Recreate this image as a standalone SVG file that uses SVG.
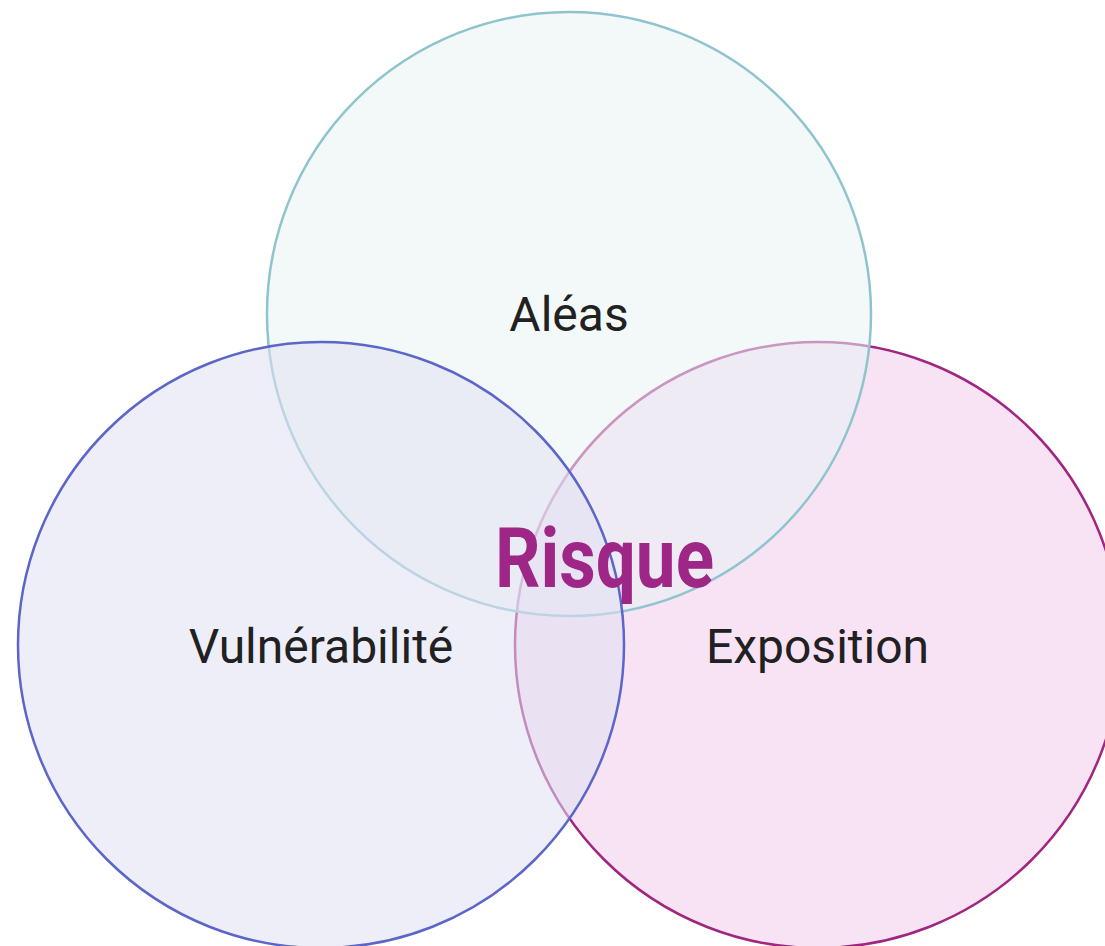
<svg xmlns="http://www.w3.org/2000/svg" width="1105" height="946" viewBox="0 0 1105 946">
  <style>
    .lbl { font-family: Roboto, "Liberation Sans", sans-serif; font-size: 48px; fill: #212121; text-anchor: middle; }
    .risk { font-family: Roboto, "Liberation Sans", sans-serif; font-weight: 700; font-size: 84px; fill: #9d2686; text-anchor: middle; }
    circle { stroke-width: 2.5; fill-opacity: 0.55; }
  </style>
  <rect width="1105" height="946" fill="#ffffff"/>
  <g id="exposition">
    <circle cx="818" cy="645" r="303" fill="#f0ccea" stroke="#a0267f"/>
  </g>
  <g id="aleas">
    <circle cx="569" cy="314" r="302" fill="#e9f2f4" stroke="#8fc4cf"/>
  </g>
  <g id="vulnerabilite">
    <circle cx="321" cy="645" r="303" fill="#e0e0f2" stroke="#5b66c8"/>
  </g>
  <g id="labels">
    <text class="lbl" x="569" y="331">Aléas</text>
    <text class="lbl" x="321" y="663">Vulnérabilité</text>
    <text class="lbl" x="817.5" y="663">Exposition</text>
  </g>
  <g id="risque">
    <text class="risk" x="604.5" y="587" textLength="219" lengthAdjust="spacingAndGlyphs">Risque</text>
  </g>
  <g id="connectors"/>
</svg>
